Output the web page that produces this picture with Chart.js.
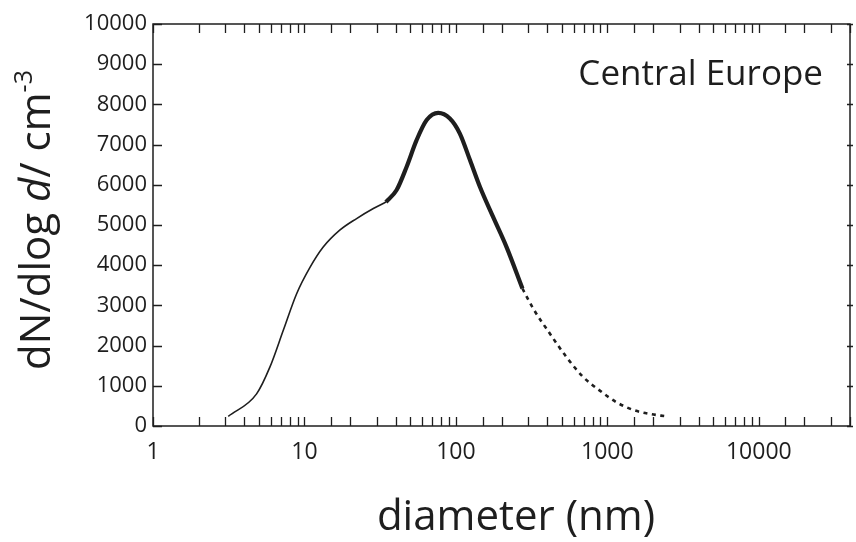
<!DOCTYPE html>
<html>
<head>
<meta charset="utf-8">
<script src="https://cdn.jsdelivr.net/npm/chart.js@4.4.1/dist/chart.umd.min.js"></script>
<style>
  html, body { margin: 0; padding: 0; background: #fff; }
  #wrap { width: 856px; height: 542px; }
</style>
</head>
<body>
<div id="wrap"><canvas id="sizeChart" width="856" height="542"></canvas></div>
<script>
// size distribution, three pieces of the same curve
const fineD = [3.14, 4.83, 5.92, 7.25, 8.88, 10.9, 13.3, 17.1, 22.1, 28.5, 34.5];
const fineN = [240, 800, 1470, 2380, 3290, 3950, 4450, 4870, 5160, 5410, 5570];
const modeD = [34.5, 40.6, 47.3, 55.0, 64.1, 76.4, 91.2, 106, 124, 144, 176, 216, 275];
const modeN = [5570, 5870, 6450, 7110, 7610, 7790, 7650, 7280, 6610, 5950, 5200, 4450, 3420];
const tailD = [275, 324, 417, 538, 692, 892, 1150, 1480, 1910, 2460];
const tailN = [3420, 2920, 2300, 1710, 1220, 880, 590, 400, 300, 240];

const decadeLabels = [1, 10, 100, 1000, 10000];
const yStep = 1000;

const FONT = "'Open Sans', 'Noto Sans', sans-serif";
const INK = '#1e1e1e';

const toPoints = (xs, ys) => xs.map((x, i) => ({ x: x, y: ys[i] }));

const isDecade = v => {
    const l = Math.log10(v);
    return Math.abs(l - Math.round(l)) < 1e-6 && decadeLabels.includes(Math.round(v));
};

// box, inward ticks, axis titles and the region label
const framePlugin = {
    id: 'frame',
    afterDatasetsDraw(chart) {
        const ctx = chart.ctx;
        const a = chart.chartArea;
        const xs = chart.scales.x;
        const ys = chart.scales.y;
        const tick = 9;

        ctx.save();
        ctx.strokeStyle = INK;
        ctx.lineWidth = 1.5;
        ctx.strokeRect(a.left, a.top, a.right - a.left, a.bottom - a.top);

        ctx.lineWidth = 1.3;
        ctx.beginPath();
        xs.ticks.forEach(t => {
            const px = Math.round(xs.getPixelForValue(t.value)) + 0.5;
            ctx.moveTo(px, a.bottom);
            ctx.lineTo(px, a.bottom - tick);
            ctx.moveTo(px, a.top);
            ctx.lineTo(px, a.top + tick);
        });
        ys.ticks.forEach(t => {
            const py = Math.round(ys.getPixelForValue(t.value)) + 0.5;
            ctx.moveTo(a.left, py);
            ctx.lineTo(a.left + tick, py);
            ctx.moveTo(a.right - 3, py);
            ctx.lineTo(a.right + 3, py);
        });
        ctx.stroke();

        ctx.fillStyle = INK;
        ctx.textBaseline = 'alphabetic';

        // x title
        ctx.font = `42px ${FONT}`;
        ctx.textAlign = 'center';
        ctx.fillText('diameter (nm)', 516, 530);

        // y title with italic d, superscript -3
        const size = 42;
        const parts = [
            ['dN/dlog ', ''], ['d', 'italic '], ['/ cm', ''], ['-3', 'sup']
        ];
        const fontOf = p => p[1] === 'sup' ? `${Math.round(size * 0.6)}px ${FONT}` : `${p[1]}${size}px ${FONT}`;
        let total = 0;
        parts.forEach(p => { ctx.font = fontOf(p); total += ctx.measureText(p[0]).width; });
        ctx.textAlign = 'left';
        ctx.translate(50, 220);
        ctx.rotate(-Math.PI / 2);
        let x = -total / 2;
        parts.forEach(p => {
            ctx.font = fontOf(p);
            const dy = p[1] === 'sup' ? -size * 0.42 : 0;
            ctx.fillText(p[0], x, dy);
            x += ctx.measureText(p[0]).width;
        });
        ctx.restore();

        ctx.save();
        ctx.fillStyle = INK;
        ctx.font = `35px ${FONT}`;
        ctx.textAlign = 'right';
        ctx.textBaseline = 'alphabetic';
        ctx.fillText('Central Europe', 823, 85);
        ctx.restore();
    }
};

const line = (xs, ys, width, dash) => ({
    data: toPoints(xs, ys),
    borderColor: INK,
    borderWidth: width,
    borderDash: dash || [],
    pointRadius: 0,
    fill: false,
    cubicInterpolationMode: 'monotone'
});

new Chart(document.getElementById('sizeChart').getContext('2d'), {
    type: 'line',
    data: {
        datasets: [
            line(fineD, fineN, 1.6),
            line(modeD, modeN, 4.2),
            line(tailD, tailN, 2.6, [4, 4.5])
        ]
    },
    options: {
        responsive: false,
        animation: false,
        layout: { padding: { top: 24, right: 6, left: 0, bottom: 0 } },
        plugins: { legend: { display: false }, tooltip: { enabled: false } },
        scales: {
            x: {
                type: 'logarithmic',
                min: 1,
                max: 40000,
                grid: { display: false, drawTicks: false },
                border: { display: false },
                ticks: {
                    autoSkip: false,
                    maxRotation: 0,
                    padding: 13,
                    color: INK,
                    font: { family: FONT, size: 23 },
                    callback: v => isDecade(v) ? String(Math.round(v)) : ''
                },
                afterFit(s) { s.height = 116; s.paddingLeft = 0; s.paddingRight = 0; }
            },
            y: {
                min: 0,
                max: 10000,
                grid: { display: false, drawTicks: false },
                border: { display: false },
                ticks: {
                    stepSize: yStep,
                    padding: 6,
                    color: INK,
                    font: { family: FONT, size: 22 },
                    callback: v => String(v)
                },
                afterFit(s) { s.width = 153; s.paddingTop = 0; s.paddingBottom = 0; }
            }
        }
    },
    plugins: [framePlugin]
});
</script>
</body>
</html>
